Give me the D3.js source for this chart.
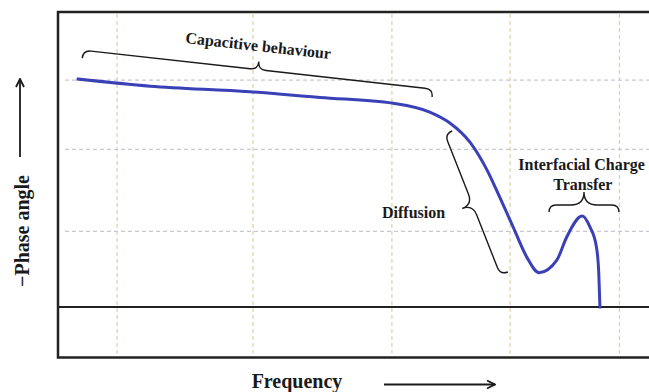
<!DOCTYPE html>
<html>
<head>
<meta charset="utf-8">
<script src="https://cdn.jsdelivr.net/npm/d3@7"></script>
<style>
  html, body { margin: 0; padding: 0; background: #fff; }
  svg { display: block; }
  text { font-family: "Liberation Serif", "Times New Roman", serif; font-weight: bold; fill: #1a1a1a; }
</style>
</head>
<body>
<svg id="chart" width="649" height="392"></svg>
<script>
// Bode phase plot (schematic): -phase angle vs. frequency, arbitrary units
const freq  = [3.4, 15.6, 32.5, 44.3, 56.7, 62.9, 66.3, 69.7, 72.6, 74.2, 77.0, 79.3, 81.4, 84.4, 86.1, 88.7, 90.0, 91.1, 91.5, 91.7];
const phase = [90.4, 87.6, 85.4, 83.1, 80.8, 77.3, 73.0, 65.4, 54.3, 46.4, 31.8, 19.9, 13.6, 18.6, 27.9, 36.1, 31.8, 23.9, 13.5, 0];

// grid positions (data units)
const xGrid = [10, 33, 56.5, 76.5, 95];
const yGrid = [30, 62.5, 90];

// annotated regions: brace end points in data units
const regions = [
  { name: "Capacitive behaviour", from: [4.1, 98.7], to: [63.3, 83.3], hook: 8, tip: 8, side: 1 },
  { name: "Diffusion",            from: [66.7, 69.8], to: [76.1, 13.9], hook: 8, tip: 11, side: -1 },
  { name: "Interfacial Charge Transfer", from: [83.1, 37.7], to: [94.9, 37.7], hook: 7, tip: 13, side: 1 }
];

const svg = d3.select("#chart");
const W = 649, H = 392;
const plotL = 58, plotT = 12, plotB = 357.5, plotR = W;

const x = d3.scaleLinear().domain([0, 100]).range([plotL, plotR]);
const y = d3.scaleLinear().domain([-20, 117]).range([plotB, plotT]);

// dashed grid
svg.append("g").selectAll("line").data(xGrid).join("line")
  .attr("x1", d => x(d)).attr("x2", d => x(d))
  .attr("y1", plotT + 2).attr("y2", plotB - 4)
  .attr("stroke", "#d8d2ad").attr("stroke-width", 1.2)
  .attr("stroke-dasharray", "4,3");

svg.append("g").selectAll("line").data(yGrid).join("line")
  .attr("x1", plotL + 7).attr("x2", plotR)
  .attr("y1", d => y(d)).attr("y2", d => y(d))
  .attr("stroke", "#c9c9d1").attr("stroke-width", 1.2)
  .attr("stroke-dasharray", "4,3");

// frame (open on the right) and zero line
svg.append("path")
  .attr("d", `M${plotR},${plotT} L${plotL},${plotT} L${plotL},${plotB} L${plotR},${plotB}`)
  .attr("fill", "none").attr("stroke", "#222").attr("stroke-width", 2.5);

svg.append("line")
  .attr("x1", plotL).attr("x2", plotR)
  .attr("y1", y(0)).attr("y2", y(0))
  .attr("stroke", "#222").attr("stroke-width", 2);

// phase curve
const pts = freq.map((f, i) => [f, phase[i]]);
const line = d3.line().x(d => x(d[0])).y(d => y(d[1])).curve(d3.curveMonotoneX);
svg.append("path")
  .datum(pts)
  .attr("d", line)
  .attr("fill", "none")
  .attr("stroke", "#3a40b6")
  .attr("stroke-width", 3)
  .attr("stroke-linecap", "square");

// curly brace between two screen points; side picks which normal the tip points to
function brace(p1, p2, hook, tip, side) {
  const dx = p2[0] - p1[0], dy = p2[1] - p1[1];
  const L = Math.hypot(dx, dy);
  const ux = dx / L, uy = dy / L;
  const nx = side * uy, ny = -side * ux;
  const P = (u, v) => [p1[0] + ux * u + nx * v, p1[1] + uy * u + ny * v];
  const m = L / 2;
  const seq = [
    ["M", P(0, 0)],
    ["Q", P(0, hook), P(hook, hook)],
    ["L", P(m - tip, hook)],
    ["Q", P(m, hook), P(m, hook + tip)],
    ["Q", P(m, hook), P(m + tip, hook)],
    ["L", P(L - hook, hook)],
    ["Q", P(L, hook), P(L, 0)]
  ];
  return seq.map(s => s[0] + s.slice(1).map(p => p[0].toFixed(1) + "," + p[1].toFixed(1)).join(" ")).join(" ");
}

svg.append("g").selectAll("path").data(regions).join("path")
  .attr("d", d => brace([x(d.from[0]), y(d.from[1])], [x(d.to[0]), y(d.to[1])], d.hook, d.tip, d.side))
  .attr("fill", "none").attr("stroke", "#1a1a1a").attr("stroke-width", 1.4);

// region labels
svg.append("text")
  .attr("transform", `translate(${x(33.8)},${y(101.5)}) rotate(6.3)`)
  .attr("text-anchor", "middle").attr("font-size", 16)
  .text("Capacitive behaviour");

svg.append("text")
  .attr("x", x(65.5)).attr("y", y(35.3))
  .attr("text-anchor", "end").attr("font-size", 16)
  .text("Diffusion");

const ict = svg.append("text")
  .attr("text-anchor", "middle").attr("font-size", 16);
ict.append("tspan").attr("x", x(88.6)).attr("y", y(54.5)).text("Interfacial Charge");
ict.append("tspan").attr("x", x(88.8)).attr("y", y(46.5)).text("Transfer");

// axis titles with direction arrows
svg.append("defs").append("marker")
  .attr("id", "arrow").attr("viewBox", "0 0 10 10")
  .attr("refX", 9).attr("refY", 5)
  .attr("markerWidth", 10).attr("markerHeight", 10)
  .attr("markerUnits", "userSpaceOnUse")
  .attr("orient", "auto")
  .append("path").attr("d", "M1,1 L9,5 L1,9").attr("fill", "none")
  .attr("stroke", "#1a1a1a").attr("stroke-width", 1.8);

svg.append("text")
  .attr("x", 297).attr("y", 388)
  .attr("text-anchor", "middle").attr("font-size", 20)
  .text("Frequency");
svg.append("line")
  .attr("x1", 384).attr("x2", 495).attr("y1", 384.5).attr("y2", 384.5)
  .attr("stroke", "#1a1a1a").attr("stroke-width", 1.8)
  .attr("marker-end", "url(#arrow)");

svg.append("text")
  .attr("transform", "translate(29,231) rotate(-90)")
  .attr("text-anchor", "middle").attr("font-size", 20)
  .text("\u2212Phase angle");
svg.append("line")
  .attr("x1", 20).attr("x2", 20).attr("y1", 157).attr("y2", 79)
  .attr("stroke", "#1a1a1a").attr("stroke-width", 1.8)
  .attr("marker-end", "url(#arrow)");
</script>
</body>
</html>
